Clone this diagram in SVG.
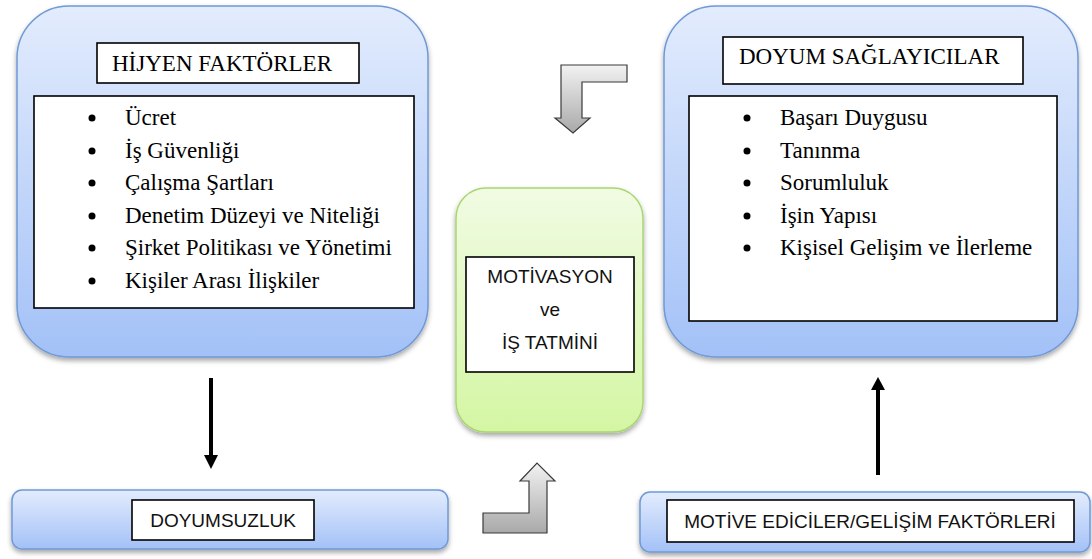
<svg xmlns="http://www.w3.org/2000/svg" width="1092" height="559" viewBox="0 0 1092 559">
  <style>
    .panel { fill: url(#blueGrad); stroke: #6f99d6; stroke-width: 1.5; filter: url(#shadow); }
    .core { fill: url(#greenGrad); stroke: #a9d672; stroke-width: 1.5; filter: url(#shadow); }
    .frame { fill: #ffffff; stroke: #000000; stroke-width: 1.6; }
    .txt-roman { font-family: 'Liberation Serif', 'DejaVu Serif', 'Times New Roman', serif; font-size: 23px; fill: #000000; }
    .txt-plain { font-family: 'Liberation Sans', Arial, sans-serif; font-size: 19px; fill: #111111; }
    .bullet { fill: #000000; }
    .bent { fill: url(#grayGrad); stroke: #3a3a3a; stroke-width: 1.2; stroke-linejoin: miter; }
    .shaft { stroke: #000000; stroke-width: 4; fill: none; }
    .head { fill: #000000; }
  </style>
  <defs>
    <linearGradient id="blueGrad" x1="0" y1="0" x2="0" y2="1">
      <stop offset="0" stop-color="#e3ecfd"/>
      <stop offset="1" stop-color="#a3c1f7"/>
    </linearGradient>
    <linearGradient id="greenGrad" x1="0" y1="0" x2="0" y2="1">
      <stop offset="0" stop-color="#f1fbe3"/>
      <stop offset="1" stop-color="#d4f6a3"/>
    </linearGradient>
    <linearGradient id="grayGrad" x1="0" y1="0" x2="0" y2="1">
      <stop offset="0" stop-color="#f2f2f2"/>
      <stop offset="1" stop-color="#a9a9a9"/>
    </linearGradient>
    <filter id="shadow" x="-10%" y="-10%" width="120%" height="130%">
      <feDropShadow dx="0" dy="3" stdDeviation="2.5" flood-color="#000000" flood-opacity="0.35"/>
    </filter>
  </defs>

  <!-- Hygiene factors -->
  <g id="hijyen">
    <rect class="panel" x="17" y="6" width="411" height="351" rx="52" ry="52"/>
    <rect class="frame" x="97" y="43" width="262" height="40"/>
    <text class="txt-roman" font-family="Liberation Serif, serif" x="112" y="71">HİJYEN FAKTÖRLER</text>
    <rect class="frame" x="34" y="96" width="380" height="212"/>
    <g class="bullet">
      <circle cx="92" cy="118" r="3.5"/>
      <circle cx="92" cy="151" r="3.5"/>
      <circle cx="92" cy="183" r="3.5"/>
      <circle cx="92" cy="216" r="3.5"/>
      <circle cx="92" cy="248" r="3.5"/>
      <circle cx="92" cy="281" r="3.5"/>
    </g>
    <g class="txt-roman" font-family="Liberation Serif, serif">
      <text x="125" y="125">Ücret</text>
      <text x="125" y="158">İş Güvenliği</text>
      <text x="125" y="190">Çalışma Şartları</text>
      <text x="125" y="223">Denetim Düzeyi ve Niteliği</text>
      <text x="125" y="255">Şirket Politikası ve Yönetimi</text>
      <text x="125" y="288">Kişiler Arası İlişkiler</text>
    </g>
  </g>

  <!-- Satisfiers -->
  <g id="doyum-saglayicilar">
    <rect class="panel" x="664" y="6" width="414" height="351" rx="52" ry="52"/>
    <rect class="frame" x="723" y="37" width="300" height="47"/>
    <text class="txt-roman" font-family="Liberation Serif, serif" x="739" y="64">DOYUM SAĞLAYICILAR</text>
    <rect class="frame" x="689" y="96" width="368" height="225"/>
    <g class="bullet">
      <circle cx="747" cy="118" r="3.5"/>
      <circle cx="747" cy="151" r="3.5"/>
      <circle cx="747" cy="183" r="3.5"/>
      <circle cx="747" cy="216" r="3.5"/>
      <circle cx="747" cy="248" r="3.5"/>
    </g>
    <g class="txt-roman" font-family="Liberation Serif, serif">
      <text x="780" y="125">Başarı Duygusu</text>
      <text x="780" y="158">Tanınma</text>
      <text x="780" y="190">Sorumluluk</text>
      <text x="780" y="223">İşin Yapısı</text>
      <text x="780" y="255">Kişisel Gelişim ve İlerleme</text>
    </g>
  </g>

  <!-- Motivation and job satisfaction -->
  <g id="motivasyon">
    <rect class="core" x="456" y="188" width="187" height="244" rx="30" ry="30"/>
    <rect class="frame" x="466" y="257" width="168" height="115"/>
    <text class="txt-plain" x="550" y="283" text-anchor="middle">MOTİVASYON</text>
    <text class="txt-plain" x="550" y="316" text-anchor="middle">ve</text>
    <text class="txt-plain" x="550" y="349" text-anchor="middle">İŞ TATMİNİ</text>
  </g>

  <!-- Dissatisfaction -->
  <g id="doyumsuzluk">
    <rect class="panel" x="12" y="490" width="436" height="59" rx="10" ry="10"/>
    <rect class="frame" x="132" y="500" width="182" height="40"/>
    <text class="txt-plain" x="223" y="527" text-anchor="middle">DOYUMSUZLUK</text>
  </g>

  <!-- Motivators -->
  <g id="motive-ediciler">
    <rect class="panel" x="640" y="492" width="450" height="60" rx="10" ry="10"/>
    <rect class="frame" x="667" y="500" width="407" height="42"/>
    <text class="txt-plain" x="870" y="528" text-anchor="middle">MOTİVE EDİCİLER/GELİŞİM FAKTÖRLERİ</text>
  </g>

  <!-- Connectors -->
  <g id="connectors">
    <line class="shaft" x1="211" y1="378" x2="211" y2="457"/>
    <polygon class="head" points="204,455 218,455 211,469"/>
    <line class="shaft" x1="878" y1="475" x2="878" y2="387"/>
    <polygon class="head" points="871,390 885,390 878,377"/>
    <path class="bent" d="M627,65 L627,82 L582,82 L582,118 L590,118 L573,133 L555,118 L561,118 L561,65 Z"/>
    <path class="bent" d="M483,513 L529,513 L529,481 L520,481 L537,463 L555,481 L547,481 L547,533 L483,533 Z"/>
  </g>
</svg>
